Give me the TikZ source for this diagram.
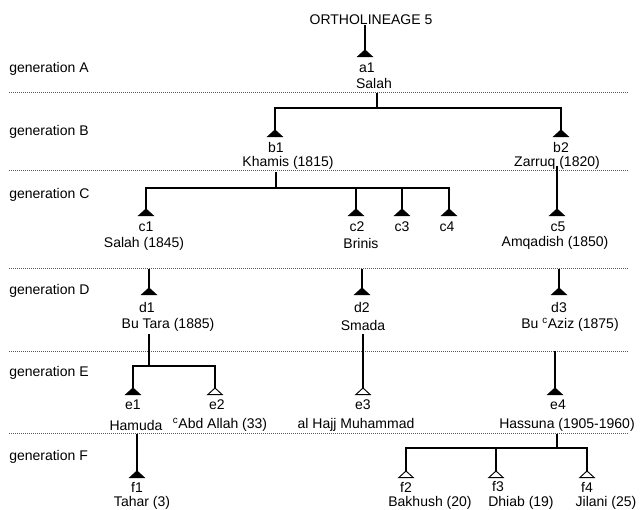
\documentclass[tikz,border=0pt]{standalone}
\usepackage{fontspec}
\setmainfont{Liberation Sans}
\tikzset{
  person/.style={inner sep=0pt, minimum width=10.5pt, minimum height=4.6pt, anchor=north},
  pid/.style={inner sep=0pt, font=\fontsize{10.5}{12}\selectfont},
  pname/.style={pid},
  genlbl/.style={pid, anchor=west},
  sep/.style={line width=0.7pt, black!65, dash pattern=on 0.75pt off 0.75pt},
  kin/.style={line width=0.8pt},
  trimark/.style={line width=0.7pt, line join=miter}
}

\begin{document}
\begin{tikzpicture}[x=0.75pt, y=-0.75pt]
  \useasboundingbox (0,0) rectangle (640,510);

  \node[pid] (title) at (371,20) {ORTHOLINEAGE 5};

  % generation rows
  \node[genlbl] (genA) at (9,69)  {generation A};
  \node[genlbl] (genB) at (9,132) {generation B};
  \node[genlbl] (genC) at (9,195) {generation C};
  \node[genlbl] (genD) at (9,291) {generation D};
  \node[genlbl] (genE) at (9,373) {generation E};
  \node[genlbl] (genF) at (9,457) {generation F};
  \foreach \yy in {92,170,268,351,433}
    \draw[sep] (9,\yy) -- (629,\yy);

  % generation A
  \node[person] (a1) at (365,50) {};
  \node[pid] (a1-id) at (367,68) {a1};
  \node[pname] (a1-nm) at (374,83) {Salah};

  % generation B
  \node[person] (b1) at (275,130) {};
  \node[pid] (b1-id) at (276,147) {b1};
  \node[pname] (b1-nm) at (288,163) {Khamis (1815)};
  \node[person] (b2) at (561,130) {};
  \node[pid] (b2-id) at (561,147) {b2};
  \node[pname] (b2-nm) at (557,163) {Zarruq (1820)};

  % generation C
  \node[person] (c1) at (146,209) {};
  \node[pid] (c1-id) at (146,227) {c1};
  \node[pname] (c1-nm) at (144,244) {Salah (1845)};
  \node[person] (c2) at (356,209) {};
  \node[pid] (c2-id) at (357,227) {c2};
  \node[pname] (c2-nm) at (361,243) {Brinis};
  \node[person] (c3) at (402,209) {};
  \node[pid] (c3-id) at (402,227) {c3};
  \node[person] (c4) at (449,209) {};
  \node[pid] (c4-id) at (447,227) {c4};
  \node[person] (c5) at (557,209) {};
  \node[pid] (c5-id) at (558,227) {c5};
  \node[pname] (c5-nm) at (555,243) {Amqadish (1850)};

  % generation D
  \node[person] (d1) at (149,288) {};
  \node[pid] (d1-id) at (147,307) {d1};
  \node[pname] (d1-nm) at (168,325) {Bu Tara (1885)};
  \node[person] (d2) at (362,288) {};
  \node[pid] (d2-id) at (362,307) {d2};
  \node[pname] (d2-nm) at (363,325) {Smada};
  \node[person] (d3) at (559,288) {};
  \node[pid] (d3-id) at (559,307) {d3};
  \node[pname] (d3-nm) at (570,325) {Bu \textsuperscript{c}Aziz (1875)};

  % generation E
  \node[person] (e1) at (133,388) {};
  \node[pid] (e1-id) at (133,405) {e1};
  \node[pname] (e1-nm) at (136,425) {Hamuda};
  \node[person] (e2) at (215,388) {};
  \node[pid] (e2-id) at (217,405) {e2};
  \node[pname] (e2-nm) at (220,425) {\textsuperscript{c}Abd Allah (33)};
  \node[person] (e3) at (363,388) {};
  \node[pid] (e3-id) at (363,405) {e3};
  \node[pname] (e3-nm) at (356,425) {al Hajj Muhammad};
  \node[person] (e4) at (555,388) {};
  \node[pid] (e4-id) at (558,405) {e4};
  \node[pname] (e4-nm) at (567,425) {Hassuna (1905-1960)};

  % generation F
  \node[person] (f1) at (137,471) {};
  \node[pid] (f1-id) at (137,487) {f1};
  \node[pname] (f1-nm) at (142,503) {Tahar (3)};
  \node[person] (f2) at (406,471) {};
  \node[pid] (f2-id) at (406,487) {f2};
  \node[pname] (f2-nm) at (430,503) {Bakhush (20)};
  \node[person] (f3) at (496,471) {};
  \node[pid] (f3-id) at (498,487) {f3};
  \node[pname] (f3-nm) at (521,503) {Dhiab (19)};
  \node[person] (f4) at (587,471) {};
  \node[pid] (f4-id) at (587,487) {f4};
  \node[pname] (f4-nm) at (606,503) {Jilani (25)};

  % triangles: filled and open
  \foreach \p in {a1,b1,b2,c1,c2,c3,c4,c5,d1,d2,d3,e1,e4,f1}
    \filldraw[trimark] (\p.north) -- (\p.south east) -- (\p.south west) -- cycle;
  \foreach \p in {e2,e3,f2,f3,f4}
    \draw[trimark, fill=white] (\p.north) -- (\p.south east) -- (\p.south west) -- cycle;

  % descent lines
  \coordinate (a1d) at (377,93);  \coordinate (a1bar) at (377,108);
  \coordinate (b1d) at (276,172); \coordinate (b1bar) at (276,188);
  \coordinate (b2d) at (557,166);
  \coordinate (c1d) at (149,269); \coordinate (c2d) at (362,269);
  \coordinate (c5d) at (559,269);
  \coordinate (d1d) at (149,334); \coordinate (d1bar) at (149,366);
  \coordinate (d2d) at (363,334); \coordinate (d3d) at (555,351);
  \coordinate (e1d) at (137,434);
  \coordinate (e4d) at (557,434); \coordinate (e4bar) at (557,448);

  \draw[kin] (title.south -| a1) -- (a1.north);
  \draw[kin] (a1d) -- (a1bar) (b1.north) |- (a1bar) -| (b2.north);
  \draw[kin] (b1d) -- (b1bar) (c1.north) |- (b1bar) -| (c4.north);
  \foreach \kid in {c2,c3}
    \draw[kin] (\kid.north |- b1bar) -- (\kid.north);
  \draw[kin] (b2d) -- (c5.north);
  \draw[kin] (c1d) -- (d1.north);
  \draw[kin] (c2d) -- (d2.north);
  \draw[kin] (c5d) -- (d3.north);
  \draw[kin] (d1d) -- (d1bar) (e1.north) |- (d1bar) -| (e2.north);
  \draw[kin] (d2d) -- (e3.north);
  \draw[kin] (d3d) -- (e4.north);
  \draw[kin] (e1d) -- (f1.north);
  \draw[kin] (e4d) -- (e4bar) (f2.north) |- (e4bar) -| (f4.north);
  \draw[kin] (f3.north |- e4bar) -- (f3.north);
\end{tikzpicture}
\end{document}
